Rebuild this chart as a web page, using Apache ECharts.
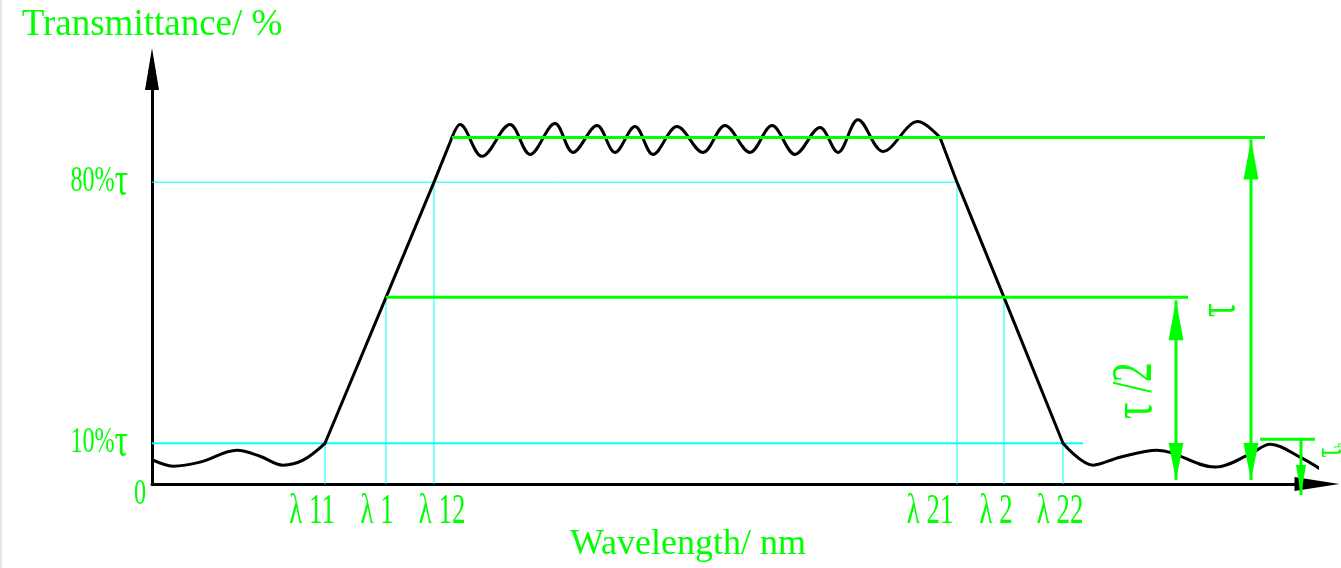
<!DOCTYPE html>
<html><head><meta charset="utf-8">
<script src="https://cdn.jsdelivr.net/npm/echarts@6/dist/echarts.min.js"></script>
<style>html,body{margin:0;padding:0;background:#fff}#c{width:1341px;height:568px}</style>
</head><body><div id="c"></div>
<script>
// ---- data (schematic units: wavelength along x, transmittance along y) ----
const curveX = [1,21,48,85,108,131,151,173,234,282,300,308,330,358,378,403,421,445,463,483,501,525,551,573,598,620,643,668,686,706,731,766,788,805,852,911,941,968,1005,1063,1098,1118,1148,1178];
const curveY = [24,18,22,34,28,19,24,41,188,304,349,362,330,362,332,363,334,361,334,360,332,360,334,361,334,361,332,359,334,367,335,365,349,304,188,41,19,27,34,17,30,40,27,9];
// index ranges of the curve that are straight ramps (edges of the passband)
const rampRanges = [[7, 10], [32, 35]];

const tauLevel = 349;      // τ (mean passband)
const halfLevel = 188;     // τ/2
const level80 = 304;       // 80%τ
const level10 = 41;        // 10%τ
const blockLevel = 45;     // τb

const lambdaNames = ['λ 11','λ 1','λ 12','λ 21','λ 2','λ 22'];
const lambdaX     = [173, 234, 282, 805, 852, 911];
const lambdaLevel = [41, 188, 304, 304, 188, 41];
const lambdaLabelX = [160, 225, 290, 778, 844, 908];

const yTickValues = [0, 41, 304];
const yTickLabels = ['0', '10%{t|τ}', '80%{t|τ}'];

const level80End = 805, level10End = 931;
const tauLineStart = 300, tauLineEnd = 1113;
const halfLineStart = 234, halfLineEnd = 1036;
const blockLineStart = 1108, blockLineEnd = 1163;

const dimArrowX      = [1024, 1099];
const dimArrowTop    = [185, 347];
const dimArrowBottom = [4, 4];
const blockArrowX = 1149, blockArrowTop = 45, blockArrowBottom = -11;

const sideLabels = ['τ', '{t|τ} /2', 'τ{s|b}'];
const sideLabelX = [1068, 984, 1178];
const sideLabelY = [175, 94, 34];

const xAxisName = 'Wavelength/ nm';
const yAxisName = 'Transmittance/ %';

// ---- rendering ----
const GREEN = '#00ff00', CYAN = '#00ffff', BLACK = '#000000';
const SERIF = '"Liberation Serif","Times New Roman",serif';

const cyanSegs = [[0, level80, level80End, level80], [0, level10, level10End, level10]]
  .concat(lambdaX.map((x, i) => [x, 0, x, lambdaLevel[i]]));
const greenSegs = [[tauLineStart, tauLevel, tauLineEnd, tauLevel],
                   [halfLineStart, halfLevel, halfLineEnd, halfLevel],
                   [blockLineStart, blockLevel, blockLineEnd, blockLevel]];
const arrowData = dimArrowX.map((x, i) => [x, dimArrowTop[i], dimArrowBottom[i]]);

function segRender(color, widthFn) {
  return function (params, api) {
    const p1 = api.coord([api.value(0), api.value(1)]);
    const p2 = api.coord([api.value(2), api.value(3)]);
    return {type: 'line', shape: {x1: p1[0], y1: p1[1], x2: p2[0], y2: p2[1]},
            style: {stroke: color, lineWidth: widthFn(params.dataIndex)}};
  };
}
function head(tip, dir, w, l) { // dir: -1 points up, +1 points down
  return {type: 'polygon', shape: {points: [[tip[0], tip[1]], [tip[0] - w / 2, tip[1] - dir * l], [tip[0] + w / 2, tip[1] - dir * l]]},
          style: {fill: GREEN}};
}
function arrowRender(params, api) {
  const t = api.coord([api.value(0), api.value(1)]);
  const b = api.coord([api.value(0), api.value(2)]);
  return {type: 'group', children: [
    {type: 'line', shape: {x1: t[0], y1: t[1], x2: b[0], y2: b[1]}, style: {stroke: GREEN, lineWidth: 3}},
    head(t, -1, 15, 40), head(b, 1, 15, 37)
  ]};
}
function blockArrowRender(params, api) {
  const t = api.coord([api.value(0), api.value(1)]);
  const b = api.coord([api.value(0), api.value(2)]);
  return {type: 'group', children: [
    {type: 'line', shape: {x1: t[0], y1: t[1], x2: b[0], y2: b[1]}, style: {stroke: GREEN, lineWidth: 3}},
    head(b, 1, 10, 30)
  ]};
}

function yTickRender(params, api) {
  const v = api.value(1);
  const p = api.coord([0, v]);
  const isZero = v === 0;
  return {type: 'text', x: p[0] + (isZero ? -6 : -24), y: p[1] + (isZero ? 11 : 0), scaleX: 0.69,
          style: {text: yTickLabels[params.dataIndex], fill: GREEN, fontSize: 35, fontFamily: SERIF,
                  align: 'right', verticalAlign: 'middle',
                  rich: {t: {fontSize: 48, fontFamily: SERIF, fill: GREEN}}}};
}
function lambdaRender(params, api) {
  const p = api.coord([api.value(0), 0]);
  return {type: 'text', x: p[0], y: p[1] + 28, scaleX: 0.64,
          style: {text: lambdaNames[params.dataIndex], fill: GREEN, fontSize: 42, fontFamily: SERIF,
                  align: 'center', verticalAlign: 'middle'}};
}
const sideStyle = [
  {size: 54, t: 54, s: 16, scale: 0.65},
  {size: 56, t: 58, s: 16, scale: 0.7},
  {size: 40, t: 40, s: 17, scale: 0.6}
];
function sideRender(params, api) {
  const p = api.coord([api.value(0), api.value(1)]);
  const st = sideStyle[params.dataIndex];
  return {type: 'text', x: p[0], y: p[1], rotation: Math.PI / 2, scaleX: st.scale,
          style: {text: sideLabels[params.dataIndex], fill: GREEN, fontSize: st.size, fontFamily: SERIF,
                  align: 'center', verticalAlign: 'middle',
                  rich: {t: {fontSize: st.t, fontFamily: SERIF, fill: GREEN},
                         s: {fontSize: st.s, fontFamily: SERIF, fill: GREEN, verticalAlign: 'bottom'}}}};
}

// split the curve: smooth ripples/baselines, straight ramps
const curvePts = curveX.map((x, i) => [x, curveY[i]]);
const cuts = [0];
rampRanges.forEach(r => { cuts.push(r[0], r[1]); });
cuts.push(curvePts.length - 1);
const curveSeries = [];
for (let k = 0; k < cuts.length - 1; k++) {
  const isRamp = k % 2 === 1;
  curveSeries.push({type: 'line', name: 'transmittance', z: 2, clip: false,
    smooth: isRamp ? false : 0.35, showSymbol: false, silent: true,
    data: curvePts.slice(cuts[k], cuts[k + 1] + 1),
    lineStyle: {color: BLACK, width: 3, cap: 'round', join: 'round'}});
}

const chart = echarts.init(document.getElementById('c'), null, {renderer: 'canvas'});
chart.setOption({
  animation: false,
  backgroundColor: '#ffffff',
  graphic: [{type: 'rect', left: 0, top: 0, shape: {width: 2, height: 568}, style: {fill: '#e4e4e4'}, silent: true}],
  grid: {left: 152, top: 69, width: 1165, height: 418},
  xAxis: {
    type: 'value', min: 0, max: 1165,
    name: xAxisName, nameLocation: 'middle', nameGap: 43,
    nameTextStyle: {color: GREEN, fontSize: 36, fontFamily: SERIF, padding: [0, 93, 0, 0]},
    axisLine: {show: true, onZero: false, symbol: ['none', 'triangle'], symbolSize: [14, 45],
               lineStyle: {color: BLACK, width: 3}},
    axisTick: {show: false}, axisLabel: {show: false}, splitLine: {show: false}
  },
  yAxis: {
    type: 'value', min: 0, max: 418,
    name: yAxisName, nameLocation: 'end', nameGap: 25,
    nameTextStyle: {color: GREEN, fontSize: 37, fontFamily: SERIF},
    axisLine: {show: true, onZero: false, symbol: ['none', 'triangle'], symbolSize: [14, 42],
               lineStyle: {color: BLACK, width: 3}},
    axisTick: {show: false}, axisLabel: {show: false}, splitLine: {show: false}
  },
  series: [
    {type: 'custom', name: 'guides', z: 1, clip: false, data: cyanSegs,
     renderItem: segRender(CYAN, i => (i === 1 ? 2 : 1))}
  ].concat(curveSeries, [
    {type: 'custom', name: 'levels', z: 3, clip: false, data: greenSegs,
     renderItem: segRender(GREEN, () => 3)},
    {type: 'custom', name: 'dims', z: 4, clip: false, data: arrowData, renderItem: arrowRender},
    {type: 'custom', name: 'blockDim', z: 4, clip: false, data: [[blockArrowX, blockArrowTop, blockArrowBottom]],
     renderItem: blockArrowRender},
    {type: 'custom', name: 'yTicks', z: 5, clip: false, data: yTickValues.map(v => [0, v]), renderItem: yTickRender},
    {type: 'custom', name: 'lambdas', z: 5, clip: false, data: lambdaLabelX.map(x => [x, 0]), renderItem: lambdaRender},
    {type: 'custom', name: 'sideLabels', z: 5, clip: false, data: sideLabelX.map((x, i) => [x, sideLabelY[i]]),
     renderItem: sideRender}
  ])
});
</script></body></html>
